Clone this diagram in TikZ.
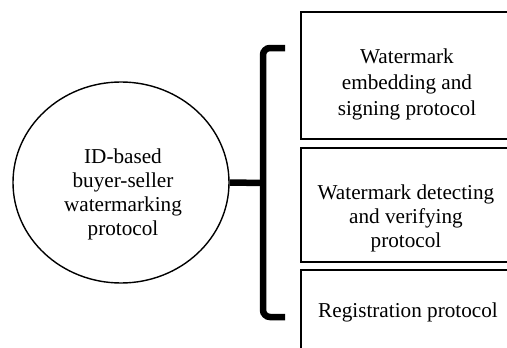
\documentclass[tikz,border=0pt]{standalone}
\usepackage{fontspec}
\setmainfont{Liberation Serif}
\usepackage{tikz}
\usetikzlibrary{calc,shapes.geometric}

\begin{document}
\begin{tikzpicture}[
    x=1pt, y=-1pt,
    proto/.style={draw, line width=1.8pt, minimum width=213pt, inner sep=0pt},
    txt/.style={align=center, font=\fontsize{21.2}{26}\selectfont, inner sep=0pt},
    brace/.style={line width=6.5pt, rounded corners=7pt},
]
    \clip[use as bounding box] (0,0) rectangle (507,348);

    % main protocol
    \node[ellipse, draw, line width=1.4pt, minimum width=216pt, minimum height=201pt] (main) at (121,182.5) {};
    \node[txt, font=\fontsize{21.2}{24}\selectfont] (maintxt) at (123,194) {ID-based\\buyer-seller\\watermarking\\protocol};

    % sub-protocols
    \node[proto, minimum height=127pt] (emb) at (407.5,75.5) {};
    \node[proto, minimum height=114pt] (det) at (407.5,205) {};
    \node[proto, minimum height=100pt] (reg) at (407.5,320) {};
    \node[txt] (embtxt) at (407,84) {Watermark\\embedding and\\signing protocol};
    \node[txt, font=\fontsize{21.2}{24}\selectfont] (dettxt) at (406,218) {Watermark detecting\\and verifying\\protocol};
    \node[txt] (regtxt) at (408,312) {Registration protocol};

    % bracket joining them
    \coordinate (bmid) at (263,183);
    \draw[brace] (285,48) -- (263,48) -- (263,317) -- (285,317);
    \draw[line width=6.5pt] (main.east) -- (bmid);
\end{tikzpicture}
\end{document}
